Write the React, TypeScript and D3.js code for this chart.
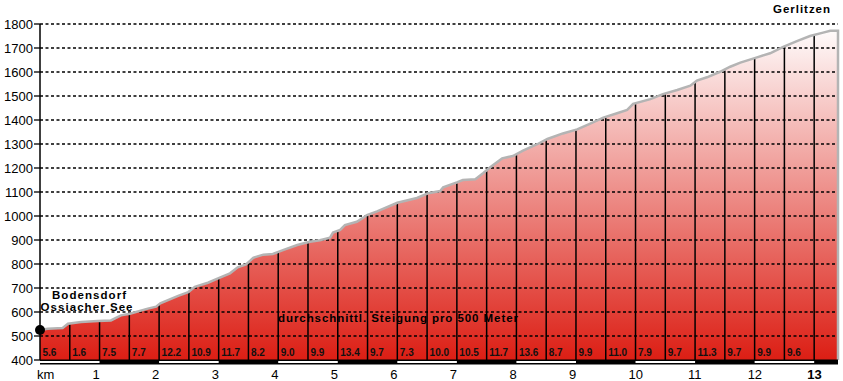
import React from "react";
import * as d3 from "d3";

// ---- data ----
const profileKm = [
  0, 0.13, 0.38, 0.47, 0.69, 0.97, 1.19, 1.36, 1.51, 1.81, 1.95, 2.02, 2.32, 2.49, 2.6, 2.82, 2.99,
  3.19, 3.32, 3.46, 3.53, 3.58, 3.75, 3.91, 4.08, 4.32, 4.53, 4.7, 4.87, 4.92, 5.04, 5.12, 5.32,
  5.41, 5.49, 5.66, 6.0, 6.33, 6.52, 6.72, 6.77, 7.0, 7.1, 7.31, 7.44, 7.56, 7.76, 7.94, 8.11,
  8.35, 8.52, 8.78, 9.02, 9.24, 9.46, 9.69, 9.86, 9.96, 10.25, 10.46, 10.7, 10.92, 11.03, 11.2,
  11.42, 11.59, 11.76, 12.04, 12.26, 12.48, 12.71, 12.93, 13.15, 13.27, 13.4,
];
const profileElev = [
  525, 530, 533, 551, 558, 562, 565, 586, 593, 614, 622, 636, 667, 683, 705, 722, 740,
  761, 786, 798, 814, 826, 839, 842, 858, 879, 893, 899, 910, 931, 942, 962, 976,
  990, 1004, 1019, 1055, 1075, 1095, 1104, 1120, 1140, 1150, 1153, 1178, 1203, 1240, 1250, 1272,
  1299, 1321, 1344, 1361, 1385, 1410, 1428, 1442, 1467, 1487, 1508, 1525, 1543, 1564, 1578,
  1601, 1622, 1639, 1661, 1678, 1705, 1729, 1750, 1764, 1772, 1772,
];
const gradients = [
  "5.6", "1.6", "7.5", "7.7", "12.2", "10.9", "11.7", "8.2", "9.0", "9.9", "13.4", "9.7", "7.3",
  "10.0", "10.5", "11.7", "13.6", "8.7", "9.9", "11.0", "7.9", "9.7", "11.3", "9.7", "9.9", "9.6",
];
const kmTicks = [1, 2, 3, 4, 5, 6, 7, 8, 9, 10, 11, 12, 13];
const elevTicks = [400, 500, 600, 700, 800, 900, 1000, 1100, 1200, 1300, 1400, 1500, 1600, 1700, 1800];
const segmentLength = 0.5;
const totalKm = 13.4;
const startName = ["Bodensdorf", "Ossiacher See"];
const endName = "Gerlitzen";
const avgLabel = "durchschnittl. Steigung pro 500 Meter";

const W = 843;
const H = 381;
const FONT = "'Liberation Sans', Arial, sans-serif";

export default function App() {
  const x = d3.scaleLinear().domain([0, totalKm]).range([40, 838]);
  const y = d3.scaleLinear().domain([400, 1800]).range([360, 24]);
  const pts = profileKm.map((k, i) => ({ km: k, ele: profileElev[i] }));
  const elevAt = (k: number) => {
    const idx = d3.bisector((d: any) => d.km).right(pts, k);
    if (idx <= 0) return pts[0].ele;
    if (idx >= pts.length) return pts[pts.length - 1].ele;
    const a = pts[idx - 1], b = pts[idx];
    return a.ele + ((b.ele - a.ele) * (k - a.km)) / (b.km - a.km);
  };
  const area = d3
    .area<any>()
    .x((d) => x(d.km))
    .y0(y(400))
    .y1((d) => y(d.ele));
  const line = d3
    .line<any>()
    .x((d) => x(d.km))
    .y((d) => y(d.ele));
  const outline = [...pts, { km: totalKm, ele: 400 }];

  const segStarts = gradients.map((_, i) => i * segmentLength);
  const dividers = d3.range(1, gradients.length + 1).map((i) => i * segmentLength);

  return (
    <svg
      width={W}
      height={H}
      style={{ position: "absolute", left: 0, top: 0, background: "#fff" }}
      fontFamily={FONT}
    >
      <defs>
        <linearGradient id="fillGrad" gradientUnits="userSpaceOnUse" x1="0" y1={y(400)} x2="0" y2={y(1800)}>
          <stop offset="0" stopColor="#dc1e14" />
          <stop offset="1" stopColor="#ffffff" />
        </linearGradient>
      </defs>
      <rect x={0} y={0} width={W} height={H} fill="#fff" />
      <path d={area(pts) || ""} fill="url(#fillGrad)" />
      {/* vertical segment lines */}
      {dividers.map((k) => (
        <line
          key={"v" + k}
          x1={x(k)}
          x2={x(k)}
          y1={y(elevAt(k)) + 1}
          y2={y(400)}
          stroke="#000"
          strokeWidth={1.5}
        />
      ))}
      {/* grid lines */}
      {elevTicks.slice(1).map((v) => (
        <line
          key={"g" + v}
          x1={x(0)}
          x2={838}
          y1={y(v)}
          y2={y(v)}
          stroke="#000"
          strokeWidth={1.3}
          strokeDasharray="3,2.5"
        />
      ))}
      {/* profile outline */}
      <path d={line(outline) || ""} fill="none" stroke="#b4b4b4" strokeWidth={2.5} />
      {/* y axis */}
      <line x1={x(0)} x2={x(0)} y1={y(1800)} y2={y(400)} stroke="#000" strokeWidth={1.5} />
      {elevTicks.map((v) => (
        <g key={"t" + v}>
          <line x1={34} x2={x(0)} y1={y(v)} y2={y(v)} stroke="#000" strokeWidth={1.3} />
          <text x={33} y={y(v) + 4.5} textAnchor="end" fontSize={13} fill="#000">
            {v}
          </text>
        </g>
      ))}
      {/* gradient labels */}
      {gradients.map((g, i) => (
        <text
          key={"s" + i}
          x={x(segStarts[i]) + 2.5}
          y={356}
          fontSize={10}
          fontWeight="bold"
          fill="#111"
        >
          {g}
        </text>
      ))}
      {/* km bar */}
      <rect x={x(0)} y={359.5} width={x(totalKm) - x(0)} height={5} fill="#000" />
      {d3.range(0, 14, 2).map((k) => (
        <rect
          key={"w" + k}
          x={x(k)}
          y={361}
          width={Math.min(x(k + 1), x(totalKm)) - x(k)}
          height={2}
          fill="#fff"
        />
      ))}
      {/* km labels */}
      <text x={37} y={379} fontSize={13} fill="#000">
        km
      </text>
      {kmTicks.map((k) => (
        <text
          key={"k" + k}
          x={x(k) - 7}
          y={379}
          fontSize={13}
          fontWeight={k === 13 ? "bold" : "normal"}
          fill="#000"
        >
          {k}
        </text>
      ))}
      {/* start dot */}
      <circle cx={x(0)} cy={y(profileElev[0])} r={5} fill="#000" />
      {/* labels */}
      <text x={52} y={299} fontSize={11.5} fontWeight="bold" textLength={74} lengthAdjust="spacing" fill="#000">
        {startName[0]}
      </text>
      <text x={40.5} y={311} fontSize={11.5} fontWeight="bold" textLength={92} lengthAdjust="spacing" fill="#000">
        {startName[1]}
      </text>
      <text x={773} y={13} fontSize={11.5} fontWeight="bold" textLength={57} lengthAdjust="spacing" fill="#000">
        {endName}
      </text>
      <text x={278} y={321.5} fontSize={11.5} fontWeight="bold" textLength={240} lengthAdjust="spacing" fill="#000">
        {avgLabel}
      </text>
    </svg>
  );
}
